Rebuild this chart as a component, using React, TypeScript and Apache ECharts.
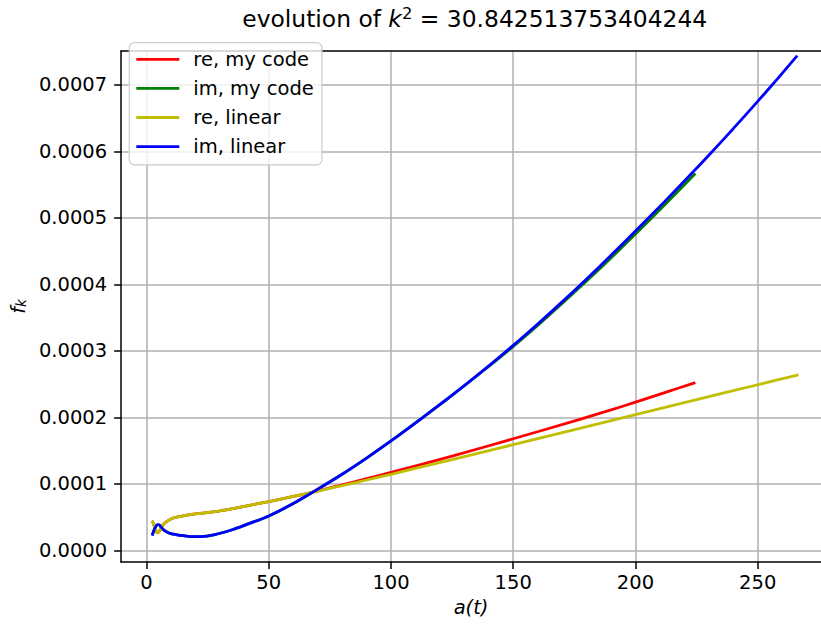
import React, { useEffect, useRef } from "react";
import * as echarts from "echarts";

// im, linear (blue)
const blueX = [2.3, 3.0, 3.7, 4.4, 5.2, 6.0, 7.0, 8.5, 10, 12, 15, 18, 22, 28, 35, 40, 50, 60, 68.7, 80, 90, 100, 112, 125, 138, 150, 160, 170, 180, 190, 200, 212, 224.5, 232, 240, 250, 258, 266.2];
const blueY = [0.0000226, 0.00003, 0.0000355, 0.000039, 0.0000385, 0.000035, 0.000031, 0.0000275, 0.0000255, 0.000024, 0.0000222, 0.0000209, 0.000021, 0.000024, 0.0000312, 0.0000378, 0.000052, 0.0000705, 0.0000893, 0.0001147, 0.000139, 0.0001647, 0.0001973, 0.0002335, 0.0002715, 0.0003084, 0.0003405, 0.0003738, 0.0004083, 0.0004438, 0.0004803, 0.0005249, 0.0005727, 0.0006022, 0.0006342, 0.0006752, 0.0007088, 0.0007441];

// im, my code (green)
const greenX = [2.3, 3.0, 3.7, 4.4, 5.2, 6.0, 7.0, 8.5, 10, 12, 15, 18, 22, 28, 35, 40, 50, 60, 68.7, 80, 90, 100, 112, 125, 138, 150, 160, 170, 180, 190, 200, 212, 224.5];
const greenY = [0.0000226, 0.00003, 0.0000355, 0.000039, 0.0000385, 0.000035, 0.000031, 0.0000275, 0.0000255, 0.000024, 0.0000222, 0.0000209, 0.000021, 0.000024, 0.0000312, 0.0000378, 0.000052, 0.0000705, 0.0000893, 0.0001147, 0.000139, 0.0001647, 0.0001973, 0.0002333, 0.000271, 0.0003069, 0.0003385, 0.0003713, 0.0004051, 0.0004398, 0.0004758, 0.0005197, 0.0005667];

// re, linear (yellow)
const yellowX = [2.3, 3.0, 3.7, 4.4, 5.2, 6.0, 7.0, 8.5, 10, 12, 15, 18, 22, 28, 35, 40, 50, 60, 68.7, 80, 90, 100, 125, 150, 177.6, 200, 225, 250, 266.7];
const yellowY = [0.0000448, 0.0000385, 0.000031, 0.0000265, 0.0000285, 0.0000345, 0.0000395, 0.000044, 0.0000475, 0.00005, 0.000052, 0.000054, 0.0000558, 0.0000584, 0.0000628, 0.0000663, 0.0000736, 0.0000813, 0.0000883, 0.0000976, 0.000106, 0.0001146, 0.0001366, 0.0001591, 0.000184, 0.0002042, 0.0002267, 0.0002492, 0.0002642];

// re, my code (red)
const redX = [2.3, 3.0, 3.7, 4.4, 5.2, 6.0, 7.0, 8.5, 10, 12, 15, 18, 22, 28, 35, 40, 50, 60, 68.7, 80, 90, 100, 125, 150, 177.6, 189, 200, 212, 224.5];
const redY = [0.0000448, 0.0000385, 0.000031, 0.0000265, 0.0000285, 0.0000345, 0.0000395, 0.000044, 0.0000475, 0.00005, 0.000052, 0.000054, 0.0000558, 0.0000584, 0.0000628, 0.0000663, 0.0000736, 0.0000813, 0.0000883, 0.0000986, 0.0001079, 0.0001174, 0.000142, 0.000168, 0.0001975, 0.0002102, 0.000223, 0.0002374, 0.0002525];

const seriesNames = ["re, my code", "im, my code", "re, linear", "im, linear"];
const seriesColors = ["#ff0000", "#008000", "#bfbf00", "#0000ff"];

const xTicks = [0, 50, 100, 150, 200, 250];
const yTicks = [0, 0.0001, 0.0002, 0.0003, 0.0004, 0.0005, 0.0006, 0.0007];

const FONT = "DejaVu Sans";
const X_MIN = -10.4;
const X_MAX = 275.9;

export default function App() {
  const ref = useRef<HTMLDivElement>(null);
  useEffect(() => {
    const chart = echarts.init(ref.current!, null, { renderer: "svg" });
    const pairs = (xs: number[], ys: number[]) => xs.map((x, i) => [x, ys[i]]);
    const datasets = [pairs(redX, redY), pairs(greenX, greenY), pairs(yellowX, yellowY), pairs(blueX, blueY)];
    chart.setOption({
      animation: false,
      backgroundColor: "#ffffff",
      graphic: [
        {
          type: "text",
          x: 474.75,
          y: 19,
          style: {
            text: "{n|evolution of }{i|k}{s|2}{n| = 30.842513753404244}",
            align: "center",
            verticalAlign: "middle",
            fill: "#000",
            rich: {
              n: { fontFamily: FONT, fontSize: 23.4, fill: "#000", lineHeight: 28 },
              i: { fontFamily: FONT, fontStyle: "italic", fontSize: 23.4, fill: "#000", lineHeight: 28 },
              s: { fontFamily: FONT, fontSize: 16.4, fill: "#000", verticalAlign: "top", lineHeight: 28 },
            },
          },
        },
      ],
      grid: {
        left: 119.5,
        top: 51,
        right: 0,
        height: 511,
        show: false,
      },
      legend: {
        orient: "vertical",
        left: 129.3,
        top: 42.7,
        padding: [6.6, 8, 8.3, 7],
        itemWidth: 43,
        itemHeight: 2.8,
        itemGap: 9.1,
        icon: "rect",
        backgroundColor: "rgba(255,255,255,0.8)",
        borderColor: "#cccccc",
        borderWidth: 1.2,
        borderRadius: 5,
        textStyle: { fontFamily: FONT, fontSize: 19.5, lineHeight: 20, color: "#000", padding: [0, 0, 0, 9] },
        data: seriesNames,
      },
      xAxis: [
        {
          type: "value",
          min: X_MIN,
          max: X_MAX,
          position: "bottom",
          axisLine: { show: true, onZero: false, lineStyle: { color: "#000", width: 1.5 } },
          axisTick: { show: true, length: 7, lineStyle: { color: "#000", width: 1.5 }, customValues: xTicks },
          axisLabel: {
            customValues: xTicks,
            margin: 10,
            fontFamily: FONT,
            fontSize: 19.5,
            color: "#000",
          },
          splitLine: { show: true, lineStyle: { color: "#b0b0b0", width: 1.5 } },
          name: "a(t)",
          nameLocation: "middle",
          nameGap: 35,
          nameTextStyle: { fontFamily: FONT, fontStyle: "italic", fontSize: 19.5, color: "#000" },
        },
        {
          type: "value",
          min: X_MIN,
          max: X_MAX,
          position: "top",
          axisLine: { show: true, onZero: false, lineStyle: { color: "#000", width: 1.5 } },
          axisTick: { show: false },
          axisLabel: { show: false },
          splitLine: { show: false },
        },
      ],
      yAxis: {
        type: "value",
        min: -0.0000173,
        max: 0.000751,
        axisLine: { show: true, onZero: false, lineStyle: { color: "#000", width: 1.5 } },
        axisTick: { show: true, length: 7, lineStyle: { color: "#000", width: 1.5 }, customValues: yTicks },
        axisLabel: {
          customValues: yTicks,
          margin: 14,
          fontFamily: FONT,
          fontSize: 19.5,
          color: "#000",
          formatter: (v: number) => v.toFixed(4),
        },
        splitLine: { show: true, lineStyle: { color: "#b0b0b0", width: 1.5 } },
        name: "{i|f}{s|k}",
        nameLocation: "middle",
        nameRotate: 90,
        nameGap: 88,
        nameTextStyle: {
          color: "#000",
          rich: {
            i: { fontFamily: FONT, fontStyle: "italic", fontSize: 19.5, color: "#000" },
            s: { fontFamily: FONT, fontStyle: "italic", fontSize: 13.6, color: "#000", verticalAlign: "bottom", padding: [6, 0, 0, 0] },
          },
        },
      },
      series: seriesNames.map((name, i) => ({
        name,
        type: "line",
        xAxisIndex: 0,
        data: datasets[i],
        showSymbol: false,
        symbol: "none",
        smooth: 0.3,
        color: seriesColors[i],
        lineStyle: { color: seriesColors[i], width: 2.8 },
        z: 2 + i,
      })),
    });
    return () => chart.dispose();
  }, []);
  return <div ref={ref} style={{ position: "absolute", left: 0, top: 0, width: 821, height: 628 }} />;
}
